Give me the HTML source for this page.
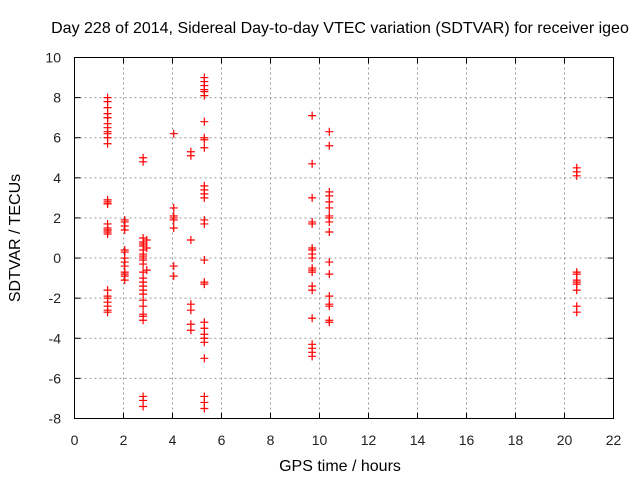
<!DOCTYPE html>
<html><head><meta charset="utf-8"><style>
body{margin:0;background:#fff}
svg{display:block;font-family:"Liberation Sans",sans-serif}
</style></head><body>
<svg id="chart" width="640" height="480">
<text x="340" y="33" font-size="16" text-anchor="middle" fill="#000">Day 228 of 2014, Sidereal Day-to-day VTEC variation (SDTVAR) for receiver igeo</text>
<text x="340" y="471" font-size="16" text-anchor="middle">GPS time / hours</text>
<text x="0" y="0" font-size="16" text-anchor="middle" transform="translate(20,238) rotate(-90)">SDTVAR / TECUs</text>
<g id="grid"></g><g id="ticks"></g><g id="pts"></g>
<rect x="74.5" y="57.5" width="539" height="361" fill="none" stroke="#000" stroke-width="1"/>
</svg>
<script>
const xTicks=[0,2,4,6,8,10,12,14,16,18,20,22];
const yTicks=[-8,-6,-4,-2,0,2,4,6,8,10];
const clusterX=[1.35,2.05,2.8,2.95,4.05,4.75,5.3,9.7,10.4,20.5];
const clusterY=[
[8.0,7.8,7.5,7.2,7.0,7.0,6.7,6.5,6.3,6.2,6.0,5.7,2.9,2.8,2.7,2.7,1.7,1.5,1.4,1.4,1.3,1.2,-1.6,-1.9,-2.0,-2.2,-2.4,-2.6,-2.7],
[1.9,1.8,1.6,1.4,0.4,0.3,0.0,-0.2,-0.4,-0.7,-0.8,-0.9,-1.1],
[5.0,4.8,1.0,0.8,0.7,0.6,0.4,0.2,0.1,0.0,-0.1,-0.3,-0.7,-1.0,-1.2,-1.4,-1.6,-1.8,-2.1,-2.4,-2.8,-2.9,-3.1,-6.9,-7.1,-7.4],
[0.9,0.5,-0.6],
[6.2,2.5,2.1,2.0,1.9,1.5,-0.4,-0.9],
[5.3,5.1,0.9,-2.3,-2.6,-3.3,-3.6],
[9.0,8.8,8.6,8.4,8.3,8.1,6.8,6.0,5.9,5.5,3.6,3.4,3.2,3.0,1.9,1.7,-0.1,-1.2,-1.3,-3.2,-3.5,-3.8,-4.0,-4.2,-5.0,-6.9,-7.2,-7.5],
[7.1,4.7,3.0,1.8,1.7,0.5,0.4,0.2,0.0,-0.5,-0.6,-0.7,-1.4,-1.6,-3.0,-4.3,-4.5,-4.7,-4.9],
[6.3,5.6,3.3,3.1,2.8,2.5,2.1,2.0,1.8,1.3,-0.2,-0.8,-1.9,-2.3,-2.4,-3.1,-3.2],
[4.5,4.3,4.1,-0.7,-0.8,-1.1,-1.2,-1.3,-1.6,-2.4,-2.7]
];
const NS="http://www.w3.org/2000/svg";
const L=74.5,R=613.5,T=57.5,B=418.5;
function sx(v){return L+(v-0)/(22-0)*(R-L);}
function sy(v){return B-(v+8)/18*(B-T);}
function mk(tag,attrs,parent){const e=document.createElementNS(NS,tag);for(const k in attrs)e.setAttribute(k,attrs[k]);parent.appendChild(e);return e;}
const grid=document.getElementById('grid'),ticks=document.getElementById('ticks'),pts=document.getElementById('pts');
xTicks.forEach(v=>{const x=sx(v);
 if(v>0&&v<22){const g=mk('line',{x1:x,y1:T,x2:x,y2:B,stroke:'#999','stroke-dasharray':'2,3'},grid);
 
 }
 mk('line',{x1:x,y1:B,x2:x,y2:B-6,stroke:'#000'},ticks);mk('line',{x1:x,y1:T,x2:x,y2:T+6,stroke:'#000'},ticks);
 const t=mk('text',{x:x,y:445,'font-size':14,'text-anchor':'middle',fill:'#222'},ticks);t.textContent=v;
 
 });
yTicks.forEach(v=>{const y=sy(v);
 if(v>-8&&v<10){const g=mk('line',{x1:L,y1:y,x2:R,y2:y,stroke:'#999','stroke-dasharray':'2,3'},grid);
 
 }
 mk('line',{x1:L,y1:y,x2:L+6,y2:y,stroke:'#000'},ticks);mk('line',{x1:R,y1:y,x2:R-6,y2:y,stroke:'#000'},ticks);
 const t=mk('text',{x:61,y:y+5,'font-size':14,'text-anchor':'end',fill:'#222'},ticks);t.textContent=v;
 
 });
clusterX.forEach((cx,i)=>{clusterY[i].forEach(v=>{const x=sx(cx),y=sy(v);
 const p=mk('path',{d:`M${x-4},${y}H${x+4}M${x},${y-4}V${y+4}`,stroke:'#f00','stroke-width':1.2},pts);
 
 });});
</script>
</body></html>
